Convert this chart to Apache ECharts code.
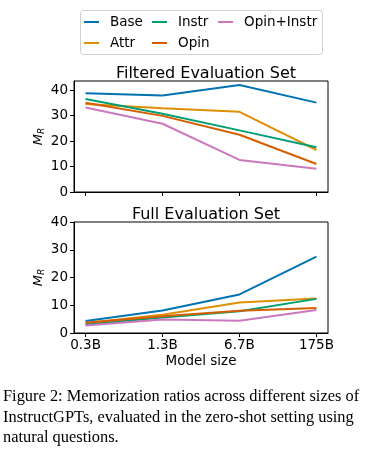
<!DOCTYPE html>
<html><head><meta charset="utf-8">
<script src="https://cdn.jsdelivr.net/npm/echarts@6/dist/echarts.min.js"></script>
<style>html,body{margin:0;padding:0;background:#fff}#c{width:385px;height:454px}</style>
</head><body><div id="c"></div>
<script>
const categories = ['0.3B', '1.3B', '6.7B', '175B'];
const seriesNames = ['Base', 'Attr', 'Instr', 'Opin', 'Opin+Instr'];
const colors = ['#0173b2', '#de8f05', '#029e73', '#d55e00', '#cc78bc'];
// Filtered Evaluation Set
const filteredBase = [38.8, 37.9, 42.0, 35.1];
const filteredAttr = [34.6, 32.9, 31.5, 16.5];
const filteredInstr = [36.5, 30.7, 24.2, 17.6];
const filteredOpin = [35.1, 29.9, 22.5, 11.0];
const filteredOpinInstr = [33.2, 26.8, 12.6, 9.1];
// Full Evaluation Set
const fullBase = [4.3, 8.1, 13.9, 27.5];
const fullAttr = [3.6, 6.6, 11.0, 12.4];
const fullInstr = [3.1, 5.6, 7.8, 12.3];
const fullOpin = [3.7, 6.0, 8.0, 9.0];
const fullOpinInstr = [2.7, 4.9, 4.4, 8.3];
const yTicks = [0, 10, 20, 30, 40];
const titles = ['Filtered Evaluation Set', 'Full Evaluation Set'];
const xName = 'Model size';
const yName = '{m|M}{r|R}';
const captionLines = [
  'Figure 2: Memorization ratios across different sizes of',
  'InstructGPTs, evaluated in the zero-shot setting using',
  'natural questions.'
];

const filtered = [filteredBase, filteredAttr, filteredInstr, filteredOpin, filteredOpinInstr];
const full = [fullBase, fullAttr, fullInstr, fullOpin, fullOpinInstr];
const FONT = 'DejaVu Sans';
const xIdx = categories.map((_, i) => i);

function xAxis(gi, showLabels) {
  return {
    type: 'value', gridIndex: gi, min: -0.15, max: 3.15,
    name: showLabels ? xName : '', nameLocation: 'middle', nameGap: 21,
    nameTextStyle: {color: '#000', fontSize: 13.5, fontFamily: FONT},
    axisLine: {show: true, onZero: false, lineStyle: {color: '#000', width: 1}},
    axisTick: {show: true, length: 4, customValues: xIdx, lineStyle: {color: '#000'}},
    axisLabel: {show: showLabels, customValues: xIdx, margin: 5, color: '#000', fontSize: 13.5, fontFamily: FONT,
      formatter: v => categories[Math.round(v)]},
    splitLine: {show: false}
  };
}
function yAxis(gi, max) {
  return {
    type: 'value', gridIndex: gi, min: 0, max: max,
    name: yName, nameLocation: 'middle', nameGap: 28, nameRotate: 90, nameMoveOverlap: false,
    nameTextStyle: {color: '#000', rich: {
      m: {fontSize: 13, fontStyle: 'italic', fontFamily: FONT, color: '#000'},
      r: {fontSize: 9, fontStyle: 'italic', fontFamily: FONT, color: '#000', verticalAlign: 'bottom', padding: [5, 0, 0, 0]}
    }},
    axisLine: {show: true, onZero: false, lineStyle: {color: '#000', width: 1}},
    axisTick: {show: true, length: 4, customValues: yTicks, lineStyle: {color: '#000'}},
    axisLabel: {customValues: yTicks, margin: 6, color: '#000', fontSize: 13.5, fontFamily: FONT},
    splitLine: {show: false}
  };
}
const series = [];
[filtered, full].forEach((set, gi) => {
  set.forEach((vals, si) => {
    series.push({
      name: seriesNames[si], type: 'line', xAxisIndex: gi, yAxisIndex: gi,
      data: vals.map((v, i) => [i, v]), symbol: 'none', silent: true,
      lineStyle: {color: colors[si], width: 2}, itemStyle: {color: colors[si]}
    });
  });
});
const legendBase = {
  orient: 'vertical', top: 15, padding: 0, icon: 'rect', itemWidth: 15, itemHeight: 2, itemGap: 7,
  textStyle: {color: '#000', fontSize: 13.5, fontFamily: FONT, padding: [0, 0, 0, 6]},
  selectedMode: false
};
const chart = echarts.init(document.getElementById('c'), null, {renderer: 'canvas'});
chart.setOption({
  animation: false,
  backgroundColor: '#fff',
  color: colors,
  title: [
    {text: titles[0], left: 201, textAlign: 'center', top: 61, textStyle: {fontSize: 16, fontWeight: 'normal', color: '#000', fontFamily: FONT}},
    {text: titles[1], left: 201, textAlign: 'center', top: 202, textStyle: {fontSize: 16, fontWeight: 'normal', color: '#000', fontFamily: FONT}}
  ],
  legend: [
    Object.assign({}, legendBase, {left: 84, data: ['Base', 'Attr']}),
    Object.assign({}, legendBase, {left: 152, data: ['Instr', 'Opin']}),
    Object.assign({}, legendBase, {left: 218, data: ['Opin+Instr']})
  ],
  grid: [
    {left: 74, top: 81, width: 254, height: 111, show: true, borderColor: '#000', borderWidth: 1, backgroundColor: 'transparent'},
    {left: 74, top: 222, width: 254, height: 111, show: true, borderColor: '#000', borderWidth: 1, backgroundColor: 'transparent'}
  ],
  xAxis: [xAxis(0, false), xAxis(1, true)],
  yAxis: [yAxis(0, 43.6), yAxis(1, 40)],
  series: series,
  graphic: [
    {type: 'rect', shape: {x: 80.5, y: 10.5, width: 242, height: 44, r: 3}, style: {fill: 'none', stroke: '#d0d0d0', lineWidth: 1}, z: -1},
  ].concat(captionLines.map((t, i) => ({
    type: 'text', left: 3, top: 389 + i * 20.3,
    style: {text: t, fontSize: 16.4, fontFamily: 'Liberation Serif', fill: '#000'}
  })))
});
</script></body></html>
